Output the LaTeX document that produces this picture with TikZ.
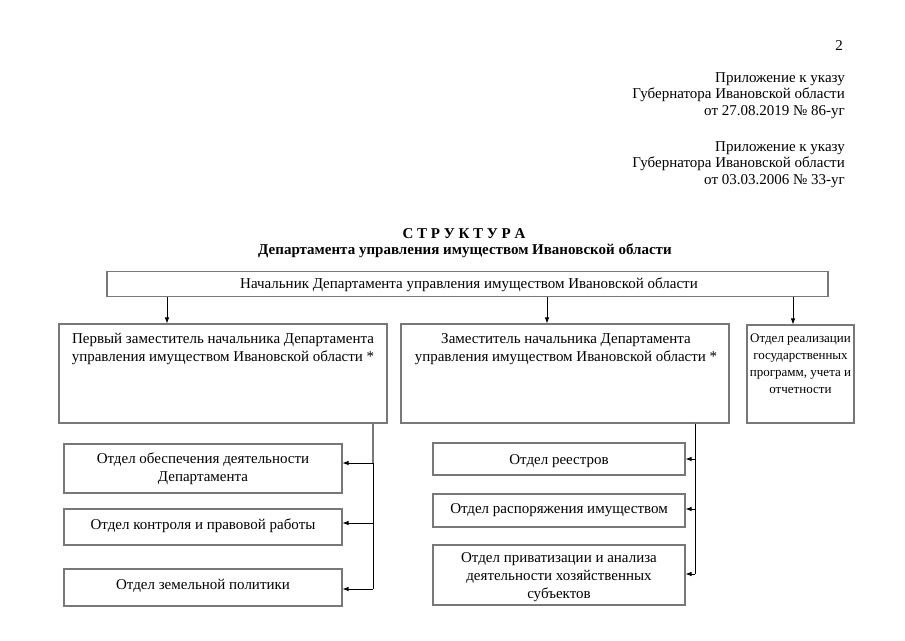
\documentclass[tikz,border=0pt]{standalone}
\usepackage{fontspec}
\setmainfont{Liberation Serif}
\usetikzlibrary{arrows.meta}
\definecolor{boxgray}{RGB}{120,120,120}
\begin{document}
\begin{tikzpicture}[x=1pt,y=-1pt,
  box/.style={draw=boxgray, line width=1.1pt, inner sep=0pt},
  txt/.style={inner sep=0pt, align=center, font=\fontsize{15}{18}\selectfont},
  hdr/.style={inner sep=0pt, align=right, anchor=north east, font=\fontsize{15}{16.6}\selectfont},
  ttl/.style={inner sep=0pt, font=\fontsize{15}{17}\selectfont\bfseries},
  conn/.style={draw=black, line width=0.8pt},
  arr/.style={conn, -{Latex[length=6pt,width=4.5pt]}}]
\useasboundingbox (0,0) rectangle (905,640);

% header
\node[hdr] (pg) at (843,40) {2};
\node[hdr] (app1) at (845,72) {Приложение к указу\\Губернатора Ивановской области\\от 27.08.2019 № 86-уг};
\node[hdr] (app2) at (845,141) {Приложение к указу\\Губернатора Ивановской области\\от 03.03.2006 № 33-уг};

% title
\node[ttl] (t1) at (464,233.5) {С Т Р У К Т У Р А};
\node[ttl] (t2) at (465,250.5) {Департамента управления имуществом Ивановской области};

% boxes
\node[box, minimum width=721pt, minimum height=25pt] (head) at (467.5,284) {};
\node[txt] (headt) at (469,284.5) {Начальник Департамента управления имуществом Ивановской области};

\node[box, minimum width=328pt, minimum height=99pt] (d1) at (223,373.5) {};
\node[txt, anchor=north] (d1t) at (223,333.5) {Первый заместитель начальника Департамента\\управления имуществом Ивановской области *};

\node[box, minimum width=328pt, minimum height=99pt] (d2) at (565,373.5) {};
\node[txt, anchor=north] (d2t) at (566,333.5) {Заместитель начальника Департамента\\управления имуществом Ивановской области *};

\node[box, minimum width=107pt, minimum height=98pt] (d3) at (800.5,374) {};
\node[txt, anchor=north, font=\fontsize{13}{16.8}\selectfont] (d3t) at (800.5,334) {Отдел реализации\\государственных\\программ, учета и\\отчетности};

\node[box, minimum width=278pt, minimum height=49pt] (a1) at (203,468.5) {};
\node[txt] (a1t) at (203,468.5) {Отдел обеспечения деятельности\\Департамента};
\node[box, minimum width=278pt, minimum height=36pt] (a2) at (203,527) {};
\node[txt] (a2t) at (203,526) {Отдел контроля и правовой работы};
\node[box, minimum width=278pt, minimum height=37pt] (a3) at (203,587.5) {};
\node[txt] (a3t) at (203,586) {Отдел земельной политики};

\node[box, minimum width=252pt, minimum height=32pt] (b1) at (559,459) {};
\node[txt] (b1t) at (559,461) {Отдел реестров};
\node[box, minimum width=252pt, minimum height=33pt] (b2) at (559,510.5) {};
\node[txt] (b2t) at (559,510.5) {Отдел распоряжения имуществом};
\node[box, minimum width=252pt, minimum height=60pt] (b3) at (559,575) {};
\node[txt] (b3t) at (559,577) {Отдел приватизации и анализа\\деятельности хозяйственных\\субъектов};

% connectors from head
\draw[arr] (head.south -| 167,0) -- (d1.north -| 167,0);
\draw[arr] (head.south -| 547,0) -- (d2.north -| 547,0);
\draw[arr] (head.south -| 793,0) -- (d3.north -| 793,0);

% left bus
\coordinate (lb0) at (373,423);
\coordinate (lb3) at (373,589);
\draw[conn, draw=boxgray, line width=1.1pt] (d1.south -| lb0) -- (lb0 |- 0,463);
\draw[conn] (lb0 |- 0,463) -- (lb3);
\draw[arr] (lb0 |- 0,463) -- (a1.east |- 0,463);
\draw[arr] (lb0 |- 0,523) -- (a2.east |- 0,523);
\draw[arr] (lb3) -- (a3.east |- lb3);

% right bus
\coordinate (rb0) at (695,423);
\coordinate (rb3) at (695,574);
\draw[conn] (d2.south -| rb0) -- (rb3);
\draw[arr] (rb0 |- 0,459) -- (b1.east |- 0,459);
\draw[arr] (rb0 |- 0,509) -- (b2.east |- 0,509);
\draw[arr] (rb3) -- (b3.east |- rb3);
\end{tikzpicture}
\end{document}
